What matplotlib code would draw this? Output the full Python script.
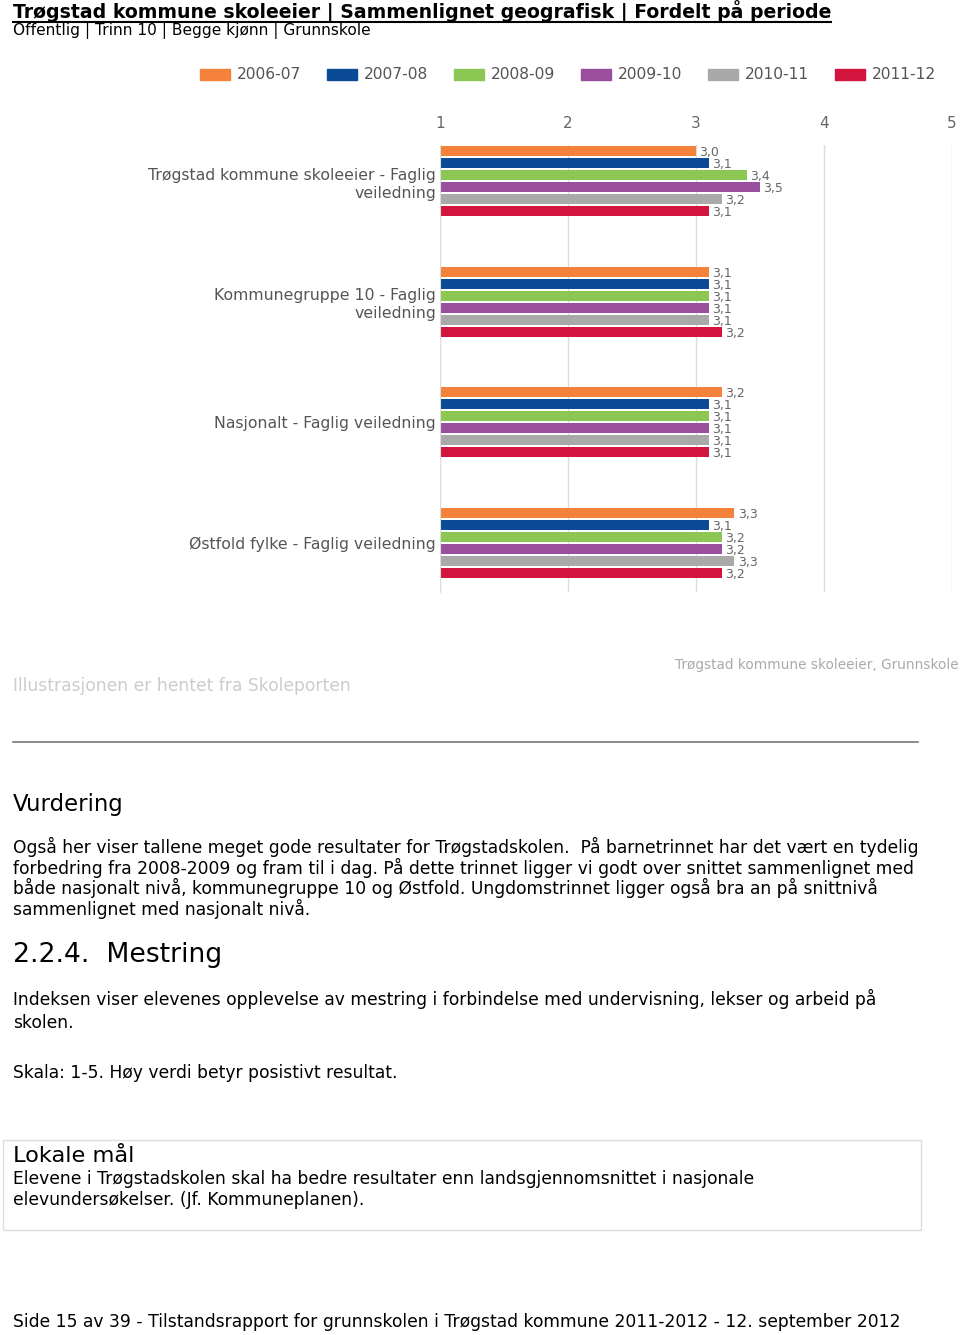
import matplotlib.pyplot as plt
from matplotlib.patches import Rectangle
import numpy as np

plt.rcParams['font.family'] = ['DejaVu Sans']

# data
groups = ['Trøgstad kommune skoleeier - Faglig\nveiledning',
          'Kommunegruppe 10 - Faglig\nveiledning',
          'Nasjonalt - Faglig veiledning',
          'Østfold fylke - Faglig veiledning']
periods = ['2006-07', '2007-08', '2008-09', '2009-10', '2010-11', '2011-12']
colors = ['#F4823A', '#0B4A94', '#8CC653', '#9A4E9E', '#A9A9A9', '#D3143D']
v_2006 = [3.0, 3.1, 3.2, 3.3]
v_2007 = [3.1, 3.1, 3.1, 3.1]
v_2008 = [3.4, 3.1, 3.1, 3.2]
v_2009 = [3.5, 3.1, 3.1, 3.2]
v_2010 = [3.2, 3.1, 3.1, 3.3]
v_2011 = [3.1, 3.2, 3.1, 3.2]
series = [v_2006, v_2007, v_2008, v_2009, v_2010, v_2011]
xticks = [1, 2, 3, 4, 5]

W, H = 960, 1335
fig = plt.figure(figsize=(W / 100, H / 100), dpi=100)


def fy(py):
    return 1 - py / H


def fx(px):
    return px / W


BODY = 12.3

# ---- header ----
title = fig.text(fx(13), fy(11.5), 'Trøgstad kommune skoleeier | Sammenlignet geografisk | Fordelt på periode',
                 fontsize=13.6, fontweight='bold', va='center', ha='left', color='black')
fig.text(fx(13), fy(31), 'Offentlig | Trinn 10 | Begge kjønn | Grunnskole',
         fontsize=11.1, va='center', ha='left')

# legend
for i, (p, c) in enumerate(zip(periods, colors)):
    x0 = 200 + i * 127
    fig.patches.append(Rectangle((fx(x0), fy(80)), fx(30), 11 / H, color=c,
                                 transform=fig.transFigure, figure=fig))
    fig.text(fx(x0 + 37), fy(74.5), p, fontsize=11.2, color='#555555', va='center', ha='left')

# ---- chart ----
ax = fig.add_axes([fx(440), fy(592), fx(952 - 440), (592 - 145) / H])
y = np.arange(len(groups))
h = 0.083
step = 0.0996
for i, vals in enumerate(series):
    yy = y + (i - 2.5) * step
    ax.barh(yy, np.array(vals) - 1, left=1, height=h, color=colors[i], edgecolor='none')
    for yv, v in zip(yy, vals):
        ax.text(v + 0.025, yv + 0.015, ('%.1f' % v).replace('.', ','), fontsize=9,
                color='#666666', va='center', ha='left')

ax.set_xlim(1, 5)
ax.set_ylim(3.41, -0.30)
ax.set_xticks(xticks)
ax.set_xticklabels([str(t) for t in xticks])
ax.xaxis.tick_top()
ax.tick_params(axis='x', length=0, pad=10, labelsize=11, labelcolor='#666666')
ax.set_yticks(y)
ax.set_yticklabels(groups, linespacing=1.25)
ax.tick_params(axis='y', length=0, pad=3, labelsize=11.3, labelcolor='#555555')
ax.xaxis.grid(True, color='#dcdcdc', lw=1)
ax.set_axisbelow(True)
for s in ['top', 'right', 'bottom']:
    ax.spines[s].set_visible(False)
ax.spines['left'].set_color('#dcdcdc')

fig.text(fx(675), fy(665), 'Trøgstad kommune skoleeier, Grunnskole', fontsize=9.8,
         color='#aaaaaa', va='center', ha='left')
fig.text(fx(13), fy(686), 'Illustrasjonen er hentet fra Skoleporten', fontsize=12.3,
         color='#cccccc', va='center', ha='left')
fig.add_artist(plt.Line2D([fx(13), fx(918)], [fy(742), fy(742)], color='#777777', lw=1.2))

# ---- body text ----
fig.text(fx(13), fy(805), 'Vurdering', fontsize=16.4, va='center', ha='left')
body = ['Også her viser tallene meget gode resultater for Trøgstadskolen.  På barnetrinnet har det vært en tydelig',
        'forbedring fra 2008-2009 og fram til i dag. På dette trinnet ligger vi godt over snittet sammenlignet med',
        'både nasjonalt nivå, kommunegruppe 10 og Østfold. Ungdomstrinnet ligger også bra an på snittnivå',
        'sammenlignet med nasjonalt nivå.']
for k, line in enumerate(body):
    fig.text(fx(13), fy(847 + k * 20.7), line, fontsize=BODY, va='center', ha='left')

fig.text(fx(13), fy(955), '2.2.4.  Mestring', fontsize=19.2, va='center', ha='left')
fig.text(fx(13), fy(999), 'Indeksen viser elevenes opplevelse av mestring i forbindelse med undervisning, lekser og arbeid på',
         fontsize=BODY, va='center', ha='left')
fig.text(fx(13), fy(1023), 'skolen.', fontsize=BODY, va='center', ha='left')
fig.text(fx(13), fy(1073), 'Skala: 1-5. Høy verdi betyr posistivt resultat.', fontsize=BODY, va='center', ha='left')

fig.patches.append(Rectangle((fx(3), fy(1230)), fx(918), (1230 - 1140) / H, fill=False,
                             edgecolor='#dddddd', lw=1, transform=fig.transFigure, figure=fig))
fig.text(fx(13), fy(1156), 'Lokale mål', fontsize=16.2, va='center', ha='left')
fig.text(fx(13), fy(1179), 'Elevene i Trøgstadskolen skal ha bedre resultater enn landsgjennomsnittet i nasjonale',
         fontsize=BODY, va='center', ha='left')
fig.text(fx(13), fy(1200), 'elevundersøkelser. (Jf. Kommuneplanen).', fontsize=BODY, va='center', ha='left')

fig.text(fx(13), fy(1322), 'Side 15 av 39 - Tilstandsrapport for grunnskolen i Trøgstad kommune 2011-2012 - 12. september 2012',
         fontsize=BODY, va='center', ha='left')

# underline the title
r = fig.canvas.get_renderer()
bb = title.get_window_extent(r)
fig.add_artist(plt.Line2D([bb.x0 / W, bb.x1 / W], [bb.y0 / H + 0.5 / H, bb.y0 / H + 0.5 / H],
                          color='black', lw=1.5))

fig.savefig('out.png', dpi=100)
